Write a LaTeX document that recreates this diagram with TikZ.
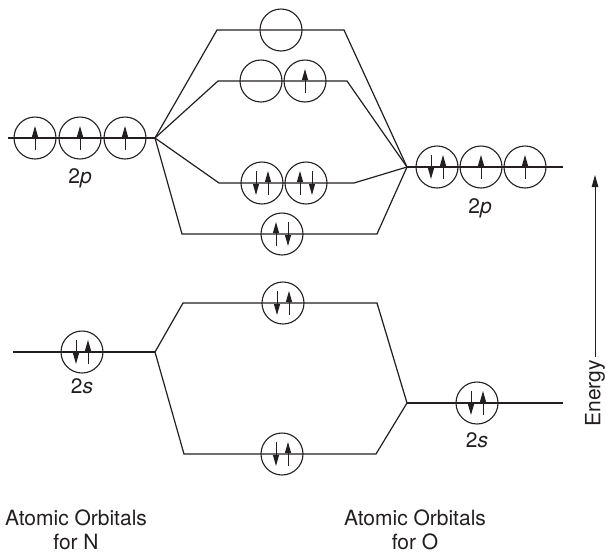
\documentclass[tikz,border=0pt]{standalone}
\usepackage{fontspec}
\setmainfont{TeX Gyre Heros}
\usetikzlibrary{arrows.meta}
\definecolor{ink}{HTML}{231F20}
\tikzset{
  orb/.style={circle, draw=ink, line width=1.1pt, minimum size=42pt, inner sep=0pt},
  lvl/.style={draw=ink, line width=1.2pt, line join=miter},
  spin/.style={-{Triangle[length=11pt,width=6pt]}, draw=ink, line width=1pt},
  lbl/.style={font=\fontsize{21}{25}\selectfont, text=ink, inner sep=0pt},
}
\newcommand{\spinup}[2]{\draw[spin] ([shift={(#2,12)}]#1.center) -- ++(0,-24);}
\newcommand{\spindn}[2]{\draw[spin] ([shift={(#2,-12)}]#1.center) -- ++(0,24);}
\newcommand{\pairdu}[1]{\spindn{#1}{-6}\spinup{#1}{6}}
\newcommand{\pairud}[1]{\spinup{#1}{-6}\spindn{#1}{6}}

\begin{document}
\begin{tikzpicture}[x=1pt, y=-1pt]
\useasboundingbox (0,0) rectangle (606,555);

% ---------------- junctions and level ends -------------------------------
\coordinate (jN2p) at (155,138);
\coordinate (jO2p) at (407,167);
\coordinate (jN2s) at (155,352);
\coordinate (jO2s) at (407,403);
\coordinate (n2p-s) at (8,138);
\coordinate (o2p-e) at (563,167);
\coordinate (n2s-s) at (13,352);
\coordinate (o2s-e) at (563,403);
\foreach \n/\xl/\xr/\y in {ssp/217/344/30, pis/218/347/81, pib/219/354/183,
                           sgp/182/377/234, sss/183/377/303, sgs/184/376/454}{
  \coordinate (\n-l) at (\xl,\y);
  \coordinate (\n-r) at (\xr,\y);
}

% ---------------- level lines --------------------------------------------
\draw[lvl] (n2p-s) -- (jN2p);
\draw[lvl] (jO2p) -- (o2p-e);
\draw[lvl] (n2s-s) -- (jN2s);
\draw[lvl] (jO2s) -- (o2s-e);
\foreach \n in {ssp,pis,pib,sgp}
  \draw[lvl] (jN2p) -- (\n-l) -- (\n-r) -- (jO2p);
\foreach \n in {sss,sgs}
  \draw[lvl] (jN2s) -- (\n-l) -- (\n-r) -- (jO2s);

% ---------------- 2p orbitals --------------------------------------------
\foreach \x [count=\i] in {35,80,125}{
  \node[orb] (n2p\i) at (\x,138) {};
  \spinup{n2p\i}{0}
}
\node[orb] (o2p1) at (437,167) {}; \pairdu{o2p1}
\node[orb] (o2p2) at (481,167) {}; \spinup{o2p2}{0}
\node[orb] (o2p3) at (525,167) {}; \spinup{o2p3}{0}

\node[orb] (ssp)  at (281,30)  {};
\node[orb] (pis1) at (261,81)  {};
\node[orb] (pis2) at (305,81)  {}; \spinup{pis2}{0}
\node[orb] (pib1) at (262,183) {}; \pairdu{pib1}
\node[orb] (pib2) at (306,183) {}; \pairud{pib2}
\node[orb] (sgp)  at (282,234) {}; \pairud{sgp}

% ---------------- 2s orbitals --------------------------------------------
\node[orb] (n2s) at (82,352)  {}; \pairdu{n2s}
\node[orb] (o2s) at (477,403) {}; \pairdu{o2s}
\node[orb] (sss) at (283,303) {}; \pairdu{sss}
\node[orb] (sgs) at (282,454) {}; \pairdu{sgs}

% ---------------- labels -------------------------------------------------
\node[lbl, anchor=base] (l2pN) at (80,183)  {2\textit{p}};
\node[lbl, anchor=base] (l2pO) at (480,213) {2\textit{p}};
\node[lbl, anchor=base] (l2sN) at (82,393)  {2\textit{s}};
\node[lbl, anchor=base] (l2sO) at (477,447) {2\textit{s}};
\node[lbl, anchor=base] (aoN)  at (76,525)  {Atomic Orbitals};
\node[lbl, anchor=base] (forN) at (76,549)  {for N};
\node[lbl, anchor=base] (aoO)  at (415,525) {Atomic Orbitals};
\node[lbl, anchor=base] (forO) at (415,549) {for O};

% ---------------- energy axis --------------------------------------------
\coordinate (etop) at (595,175);
\node[lbl, rotate=90, anchor=east, inner sep=3pt] (energy) at (595,357) {Energy};
\draw[-{Triangle[length=12pt,width=6.5pt]}, draw=ink, line width=1pt]
  (energy.east) -- (etop);
\end{tikzpicture}
\end{document}
